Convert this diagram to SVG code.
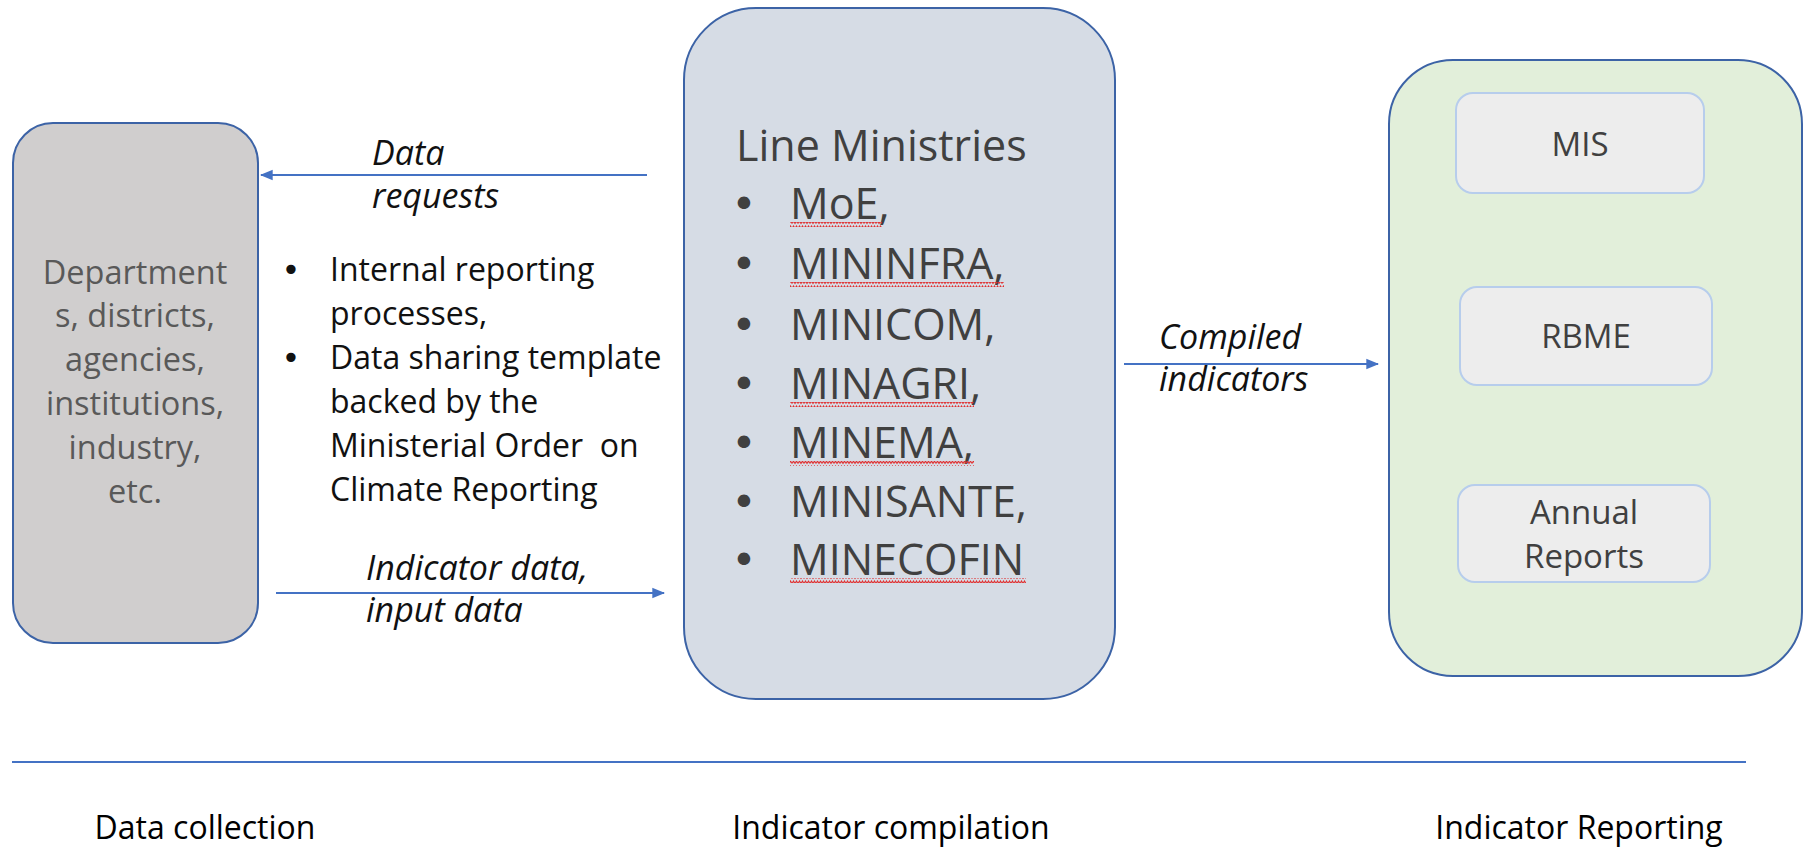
<svg xmlns="http://www.w3.org/2000/svg" width="1805" height="850" viewBox="0 0 1805 850">
<style>
  text { font-family: "Open Sans", "Liberation Sans", sans-serif; }
  .box { stroke: #3c63a6; stroke-width: 2; }
  .inner { fill: #ededed; stroke: #b7cdec; stroke-width: 2; }
  .lt { font-size: 32.5px; fill: #595959; text-anchor: middle; }
  .bt { font-size: 32px; fill: #111111; }
  .bb { font-family: "DejaVu Sans", sans-serif; font-size: 32px; fill: #111111; text-anchor: middle; }
  .it { font-size: 34px; fill: #111111; font-style: italic; }
  .mt { font-size: 43px; fill: #404040; }
  .mb { font-family: "DejaVu Sans", sans-serif; font-size: 43px; fill: #404040; text-anchor: middle; }
  .rt { font-size: 33px; fill: #404040; text-anchor: middle; }
  .ft { font-size: 32px; fill: #000000; text-anchor: middle; }
  .conn { stroke: #4472c4; stroke-width: 2; fill: none; }
  .sq { fill: url(#squiggle); }
</style>
<defs>
  <marker id="arr" viewBox="0 0 10 10" refX="9" refY="5" markerWidth="6.5" markerHeight="6.5" markerUnits="strokeWidth" orient="auto">
    <path d="M0,1 L10,5 L0,9 z" fill="#4472c4"/>
  </marker>
  <pattern id="squiggle" x="0" y="0" width="6" height="5" patternUnits="userSpaceOnUse">
    <path d="M0,3.5 L1.5,1 L3,3.5 L4.5,1 L6,3.5" fill="none" stroke="#e03030" stroke-width="1.1"/>
  </pattern>
</defs>
<rect width="1805" height="850" fill="#ffffff"/>

<g id="node-sources">
  <rect class="box" x="13" y="123" width="245" height="520" rx="40" ry="40" fill="#d0cece"/>
  <text class="lt" x="135" y="284">Department</text>
  <text class="lt" x="135" y="327">s, districts,</text>
  <text class="lt" x="135" y="371">agencies,</text>
  <text class="lt" x="135" y="415">institutions,</text>
  <text class="lt" x="135" y="459">industry,</text>
  <text class="lt" x="135" y="503">etc.</text>
</g>

<g id="node-processes">
  <text class="bb" x="291" y="281">•</text>
  <text class="bt" x="330" y="281">Internal reporting</text>
  <text class="bt" x="330" y="325">processes,</text>
  <text class="bb" x="291" y="369">•</text>
  <text class="bt" x="330" y="369">Data sharing template</text>
  <text class="bt" x="330" y="413">backed by the</text>
  <text class="bt" x="330" y="457" xml:space="preserve">Ministerial Order  on</text>
  <text class="bt" x="330" y="501">Climate Reporting</text>
</g>

<g id="node-ministries">
  <rect class="box" x="684" y="8" width="431" height="691" rx="72" ry="72" fill="#d6dce5"/>
  <text class="mt" x="736" y="161">Line Ministries</text>
  <text class="mb" x="744" y="219">•</text>
  <text class="mb" x="744" y="279">•</text>
  <text class="mb" x="744" y="340">•</text>
  <text class="mb" x="744" y="399">•</text>
  <text class="mb" x="744" y="458">•</text>
  <text class="mb" x="744" y="517">•</text>
  <text class="mb" x="744" y="575">•</text>
  <text class="mt" x="790" y="219">MoE,</text>
  <text class="mt" x="790" y="279">MININFRA,</text>
  <text class="mt" x="790" y="340">MINICOM,</text>
  <text class="mt" x="790" y="399">MINAGRI,</text>
  <text class="mt" x="790" y="458">MINEMA,</text>
  <text class="mt" x="790" y="517">MINISANTE,</text>
  <text class="mt" x="790" y="575">MINECOFIN</text>
  <rect class="sq" x="790" y="222" width="92" height="5"/>
  <rect class="sq" x="790" y="282" width="214" height="5"/>
  <rect class="sq" x="790" y="402" width="184" height="5"/>
  <rect class="sq" x="790" y="461" width="184" height="5"/>
  <rect class="sq" x="790" y="578" width="236" height="5"/>
</g>

<g id="node-reporting">
  <rect class="box" x="1389" y="60" width="413" height="616" rx="64" ry="64" fill="#e2efda"/>
  <g id="node-mis">
    <rect class="inner" x="1456" y="93" width="248" height="100" rx="17" ry="17"/>
    <text class="rt" x="1580" y="156">MIS</text>
  </g>
  <g id="node-rbme">
    <rect class="inner" x="1460" y="287" width="252" height="98" rx="17" ry="17"/>
    <text class="rt" x="1586" y="348">RBME</text>
  </g>
  <g id="node-annual">
    <rect class="inner" x="1458" y="485" width="252" height="97" rx="17" ry="17"/>
    <text class="rt" x="1584" y="524">Annual</text>
    <text class="rt" x="1584" y="568">Reports</text>
  </g>
</g>

<g id="connectors">
  <line class="conn" x1="647" y1="175" x2="261" y2="175" marker-end="url(#arr)"/>
  <line class="conn" x1="276" y1="593" x2="664" y2="593" marker-end="url(#arr)"/>
  <line class="conn" x1="1124" y1="364" x2="1378" y2="364" marker-end="url(#arr)"/>
  <text class="it" x="372" y="165">Data</text>
  <text class="it" x="372" y="208">requests</text>
  <text class="it" x="366" y="580">Indicator data,</text>
  <text class="it" x="366" y="622">input data</text>
  <text class="it" x="1159" y="349">Compiled</text>
  <text class="it" x="1159" y="391">indicators</text>
</g>

<g id="phases">
  <line x1="12" y1="762" x2="1746" y2="762" stroke="#4472c4" stroke-width="2"/>
  <text class="ft" x="205" y="839">Data collection</text>
  <text class="ft" x="891" y="839">Indicator compilation</text>
  <text class="ft" x="1579" y="839">Indicator Reporting</text>
</g>
</svg>
